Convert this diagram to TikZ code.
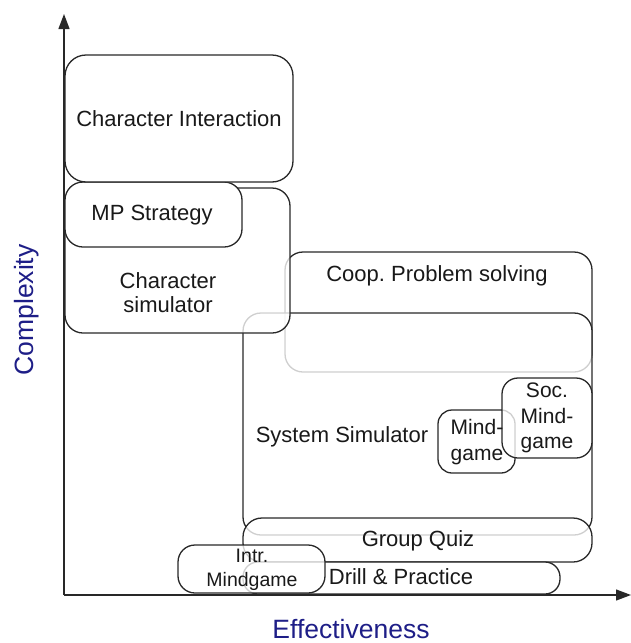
\documentclass[tikz,border=0pt]{standalone}
\usepackage{fontspec}
\setmainfont{Liberation Sans}
\usetikzlibrary{arrows.meta,fit}
\definecolor{navy}{RGB}{30,30,135}
\definecolor{ink}{RGB}{40,40,40}
\frenchspacing
\tikzset{
  box/.style={draw=ink, line width=1.3pt, rounded corners=18pt, inner sep=0pt,
    fill=white, fill opacity=0.78, text opacity=1},
  lbl/.style={font=\fontsize{22}{24}\selectfont, text=black!90, align=center, inner sep=0pt},
  small/.style={font=\fontsize{21}{25.5}\selectfont},
  axisline/.style={draw=ink, line width=1.3pt, -{Triangle[length=15pt,width=11pt]}},
  axlabel/.style={font=\fontsize{26.5}{28}\selectfont, text=navy, inner sep=0pt},
}
\begin{document}
\begin{tikzpicture}[x=1pt,y=-1pt]
\useasboundingbox (0,0) rectangle (631,643);
% boxes, back to front
\node[box, fit={(285,252)(592,372)}] (coop) {};
\node[box, fit={(243,313)(592,535)}] (sys) {};
\node[box, fit={(65,188)(290,333)}] (cs) {};
\node[box, fill opacity=1, fit={(65,182)(242,247)}] (mp) {};
\node[box, rounded corners=21pt, fit={(65,55)(293,182)}] (ci) {};
\node[box, rounded corners=14pt, fit={(438,410)(515,473)}] (mg) {};
\node[box, rounded corners=16pt, fit={(502,378)(592,458)}] (soc) {};
\node[box, rounded corners=19pt, fit={(243,518)(592,562)}] (gq) {};
\node[box, rounded corners=15pt, fit={(243,562)(560,594)}] (dp) {};
\node[box, rounded corners=17pt, fit={(178,545)(325,593)}] (im) {};
% texts
\node[lbl] (tci) at (ci) {Character Interaction};
\node[lbl] (tmp) at (152,215) {MP Strategy};
\node[lbl] (tcs) at (168,293) {Character\\simulator};
\node[lbl] (tcoop) at (437,276) {Coop. Problem solving};
\node[lbl] (tsys) at (342,437) {System Simulator};
\node[lbl, small] (tmg) at (477,442) {Mind-\\game};
\node[lbl, small] (tsoc) at (547,418) {Soc.\\Mind-\\game};
\node[lbl] (tgq) at (418,541) {Group Quiz};
\node[lbl] (tdp) at (401,577) {Drill \& Practice};
\node[lbl, font=\fontsize{19.5}{24}\selectfont] (tim) at (252,570) {Intr.\\Mindgame};
% axes
\coordinate (o) at (64,595);
\coordinate (ytip) at (64,14);
\coordinate (xtip) at (631,595);
\draw[axisline] (o) -- (ytip);
\draw[axisline] (o) -- (xtip);
\node[axlabel, rotate=90] (ylab) at (27,310) {Complexity};
\node[axlabel] (xlab) at (351,629) {Effectiveness};
\end{tikzpicture}
\end{document}
